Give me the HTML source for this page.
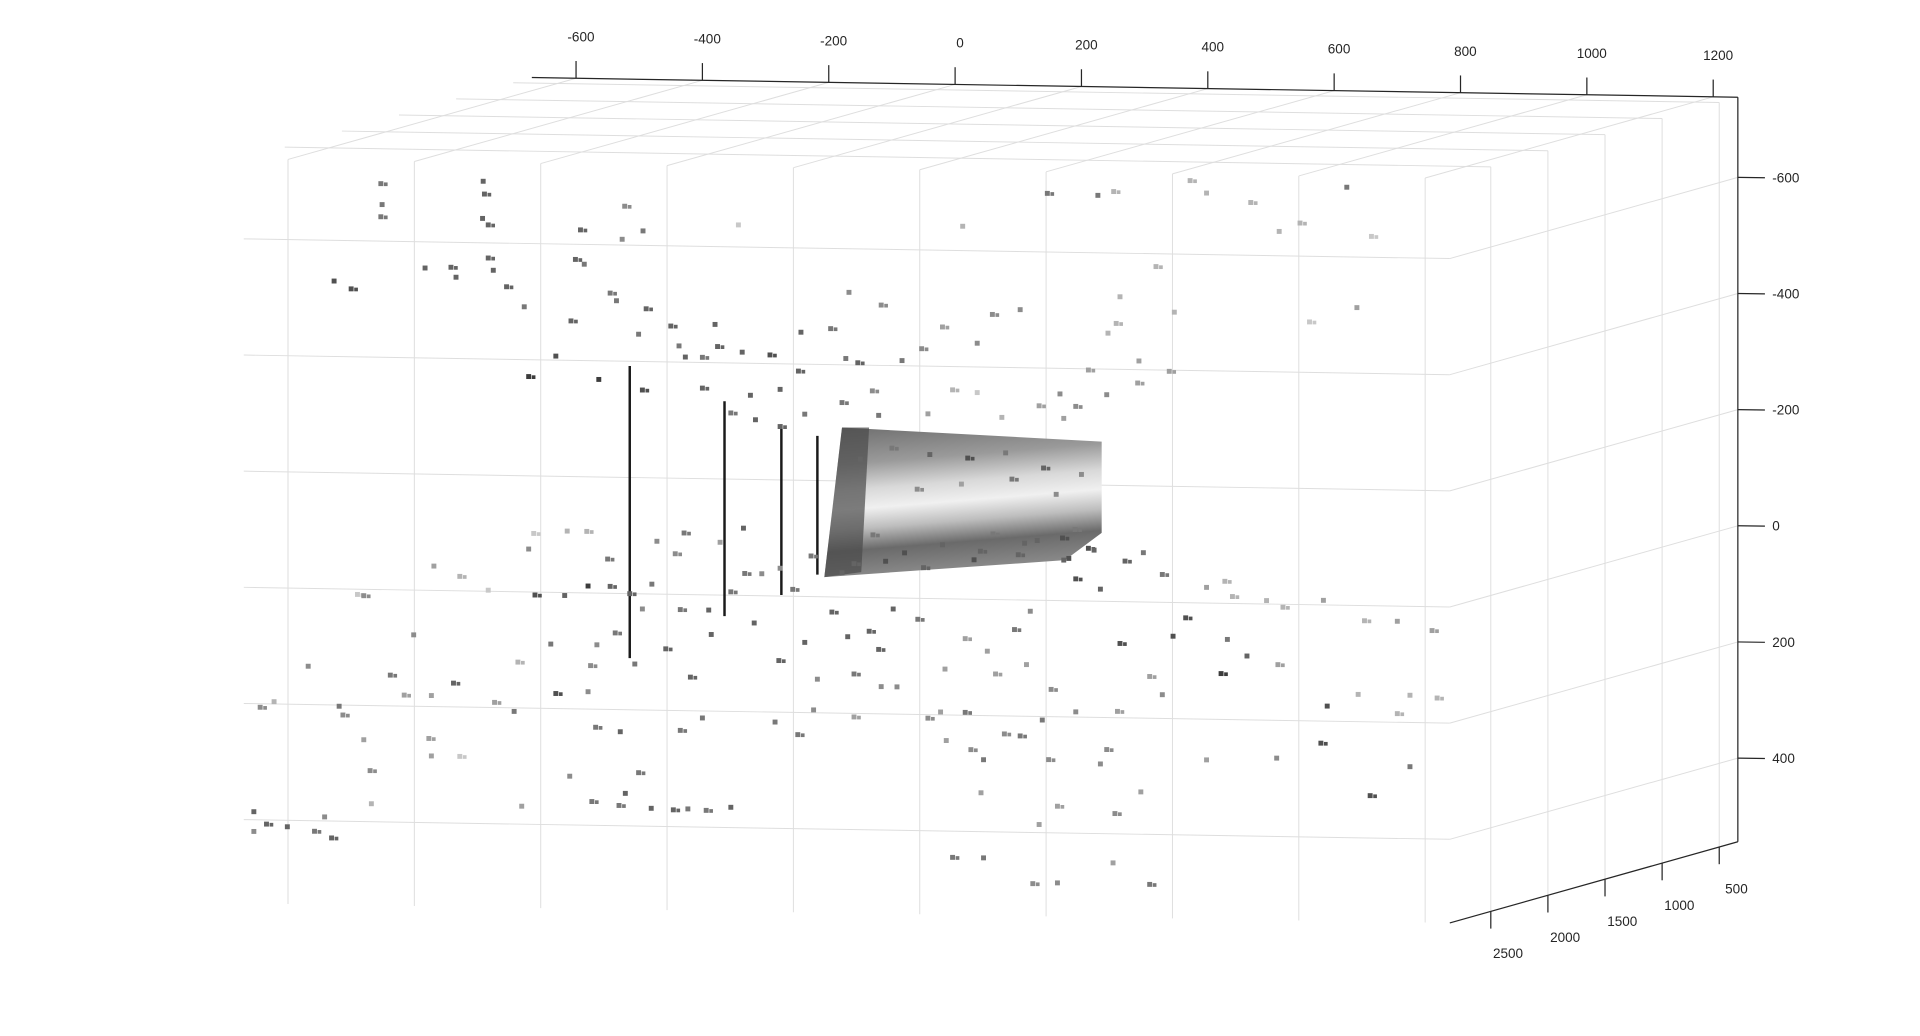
<!DOCTYPE html>
<html><head><meta charset="utf-8"><style>
html,body{margin:0;padding:0;background:#fff;}
svg{display:block;}
text{font-family:"Liberation Sans","DejaVu Sans",sans-serif;font-size:11px;fill:#262626;}
</style></head><body>
<svg id="chart" width="1920" height="1036" viewBox="0 0 1560 842" preserveAspectRatio="none" xmlns="http://www.w3.org/2000/svg">
<defs>
<linearGradient id="roomGrad" x1="0" y1="0" x2="0.15" y2="1">
<stop offset="0" stop-color="#6e6e6e"/><stop offset="0.25" stop-color="#9a9a9a"/>
<stop offset="0.42" stop-color="#d8d8d8"/><stop offset="0.55" stop-color="#f0f0f0"/>
<stop offset="0.68" stop-color="#bdbdbd"/><stop offset="0.82" stop-color="#6a6a6a"/>
<stop offset="1" stop-color="#8a8a8a"/>
</linearGradient>
</defs>
<g id="grid"></g>
<g id="marks"></g>
<g id="axes"></g>
</svg>
<script>
const xTicks = [-600,-400,-200,0,200,400,600,800,1000,1200];
const zTicks = [-600,-400,-200,0,200,400];
const dTicks = [500,1000,1500,2000,2500];
const xRange = [-670,1239];
const zRange = [-738,544];
const dRange = [337,2859];
const pointDepth = 337;
const ptX = [-909,-907,-909,-747,-745,-748,-739,-983,-956,-839,-798,-790,-739,-731,-710,-682,-593,-527,-523,-494,-601,-587,-546,-536,-489,-501,-450,-437,-608,-632,-675,-564,-495,-427,-400,-380,-376,-337,-400,-324,-293,-277,-248,-244,-197,-173,-154,-168,-117,-84,-53,12,-20,35,59,103,146,226,251,261,255,242,318,347,339,291,211,166,372,398,468,513,546,620,659,636,561,-343,
-667,-614,-583,-581,-546,-618,-665,-739,-784,-825,-946,-1024,-894,-857,-794,-829,-872,-975,-969,-936,-926,-924,-833,-829,-784,-698,-729,-686,-632,-581,-569,-530,-501,-522,-532,-481,-446,-423,-394,-355,-575,-610,-435,-400,-419,-386,-458,-507,-435,-480,-443,-372,-333,-318,-279,-285,-249,-224,-160,-117,-43,-14,25,45,103,138,148,133,123,162,240,230,257,294,253,250,308,328,308,398,365,345,421,462,511,431,439,493,519,583,648,700,755,589,579,509,657,638,700,720,763,720,328,398,427,172,191,230,261,119,94,51,16,-16,-59,-98,-136,-170,-195,-238,-257,-306,-355,-390,-515,-495,-538,-567,-577,-640,-692,-23,-4,45,78,41,162,-1110,-1090,-1057,-1014,-998,-987,-1110,-1100,-1078,-936,-675,-550,-472,-429,-335,-121,-92,64,113,152,191,16,-218,-160,-277,-228,-179,269,298,211,-43,-4,35,133,172,191,74,-131,-121,-179,-238,-277,-316,-355,240,289,
-150,-100,-40,20,80,140,200,-60,10,90,160,-130,-20,60,130,190,-80,40,110,170,220,-160,-110,-50,30,100,180];
const ptZ = [-551,-515,-494,-558,-536,-494,-483,-382,-369,-407,-409,-392,-426,-405,-377,-343,-477,-462,-519,-477,-426,-418,-369,-356,-343,-299,-314,-280,-320,-259,-223,-220,-203,-261,-261,-318,-280,-271,-208,-197,-267,-208,-240,-307,-314,-263,-256,-377,-356,-261,-282,-494,-320,-293,-343,-352,-553,-551,-558,-377,-331,-314,-430,-352,-250,-267,-250,-208,-579,-558,-543,-494,-509,-572,-488,-365,-339,-490,
47,42,42,136,136,153,153,146,123,106,157,282,295,225,307,329,329,350,365,407,460,517,403,433,433,354,339,517,322,318,379,386,456,492,513,517,519,517,519,513,507,464,382,360,290,216,242,269,174,131,78,57,110,195,259,365,386,343,354,301,354,392,407,424,382,354,422,534,636,634,403,428,337,475,513,598,634,307,276,418,174,206,269,238,252,210,136,142,153,140,174,174,189,322,386,413,475,301,333,424,305,301,100,121,110,78,110,127,220,167,199,237,216,269,184,167,206,216,174,227,136,110,142,174,148,174,216,237,273,237,269,343,593,593,379,481,502,534,555,559,566,541,577,568,354,344,159,74,89,57,42,32,237,301,276,259,301,339,343,290,280,100,78,106,78,63,57,-170,-212,-208,-187,-166,-187,-166,-208,-166,-187,-166,-144,-155,-166,-208,-229,
-90,-110,-100,-95,-105,-80,-70,-40,-50,-60,-35,40,55,35,45,25,70,65,50,40,60,90,85,95,80,70,75];
const ptShade = [.4,.4,.4,.3,.3,.3,.3,.2,.2,.3,.3,.3,.3,.3,.3,.4,.3,.5,.5,.4,.3,.4,.4,.4,.3,.4,.3,.4,.3,.2,.1,.1,.2,.3,.4,.3,.3,.3,.3,.3,.2,.3,.3,.3,.4,.4,.3,.5,.5,.4,.5,.7,.6,.5,.5,.5,.4,.4,.7,.7,.7,.7,.7,.7,.6,.6,.6,.5,.7,.7,.7,.7,.7,.4,.8,.6,.8,.8,
.8,.7,.7,.1,.3,.3,.2,.8,.7,.6,.8,.5,.4,.5,.3,.6,.6,.4,.5,.6,.5,.7,.6,.6,.8,.4,.6,.6,.2,.5,.4,.3,.4,.3,.4,.3,.3,.4,.4,.3,.4,.5,.4,.4,.3,.3,.3,.4,.4,.4,.5,.6,.4,.3,.3,.4,.4,.5,.6,.5,.5,.6,.5,.4,.4,.4,.5,.6,.5,.5,.5,.5,.6,.6,.5,.6,.4,.5,.6,.6,.2,.2,.1,.3,.6,.4,.7,.7,.7,.6,.7,.6,.6,.2,.2,.5,.2,.7,.7,.4,.7,.7,.4,.6,.7,.3,.2,.3,.2,.5,.4,.6,.6,.6,.4,.3,.3,.3,.3,.3,.4,.5,.4,.3,.3,.5,.4,.5,.5,.4,.7,.6,.4,.4,.5,.6,.6,.3,.3,.3,.4,.5,.3,.5,.5,.7,.5,.5,.4,.5,.4,.3,.3,.5,.6,.6,.5,.5,.4,.5,.4,.5,.4,.3,.3,.4,.2,.6,.7,.8,.6,.6,.5,.7,.5,.4,.4,.4,.3,.3,.4,.5,.6,
.3,.4,.3,.2,.4,.3,.5,.5,.6,.4,.5,.4,.3,.4,.3,.4,.2,.3,.3,.2,.3,.3,.2,.3,.2,.3,.2];
const lineX = [-515,-365,-275,-218];
const lineZTop = [-244,-186,-148,-129];
const lineZBot = [259,184,146,110];
const roomX = [-179,232,232,174,-207];
const roomZ = [-144,-127,30,78,114];

const NS = 'http://www.w3.org/2000/svg';
function P(x,z,d){
  return [1412 + (x-1239)*0.5133 + (d-337)*(-0.0928),
          79 + (z+738)*0.472 + (x-1239)*0.00838 + (d-337)*0.02617];
}
function mk(tag, attrs, parent){
  const e = document.createElementNS(NS, tag);
  for (const k in attrs) e.setAttribute(k, attrs[k]);
  parent.appendChild(e); return e;
}
function line(a,b,stroke,w,parent){
  return mk('line',{x1:a[0],y1:a[1],x2:b[0],y2:b[1],stroke:stroke,'stroke-width':w},parent);
}
const grid = document.getElementById('grid');
const marks = document.getElementById('marks');
const axes = document.getElementById('axes');
const GC = '#dedede';
const [x0,x1] = xRange, [z0,z1] = zRange, [d0,d1] = dRange;
dTicks.forEach(d=>{ const l=line(P(x0,z0,d),P(x1,z0,d),GC,0.8,grid);

 });
xTicks.forEach(x=>{ const l=line(P(x,z0,d0),P(x,z0,d1),GC,0.8,grid);

 });
xTicks.forEach(x=>{ const l=line(P(x,z0,d1),P(x,z1,d1),GC,0.8,grid);

 });
zTicks.forEach(z=>{ const l=line(P(x0,z,d1),P(x1,z,d1),GC,0.8,grid);

 });
dTicks.forEach(d=>{ const l=line(P(x1,z0,d),P(x1,z1,d),GC,0.8,grid);

 });
zTicks.forEach(z=>{ const l=line(P(x1,z,d0),P(x1,z,d1),GC,0.8,grid);

 });

const rp = roomX.map((x,i)=>P(x,roomZ[i],pointDepth).join(',')).join(' ');
const room = mk('polygon',{points:rp,fill:'url(#roomGrad)'},marks);


const rl = [P(roomX[0],roomZ[0],pointDepth),P(roomX[4],roomZ[4],pointDepth)];
const strip = mk('polygon',{points:[rl[0],[rl[0][0]+22,rl[0][1]],[rl[1][0]+30,rl[1][1]-4],rl[1]].map(p=>p.join(',')).join(' '),fill:'#4a4a4a',opacity:0.7},marks);



lineX.forEach((x,i)=>{
  const l = line(P(x,lineZTop[i],pointDepth),P(x,lineZBot[i],pointDepth),'#1a1a1a',2,marks);
  
  
});
ptX.forEach((x,i)=>{
  const p = P(x,ptZ[i],pointDepth);
  const g = Math.round(40 + (ptShade[i]||0.5)*200);
  const c = `rgb(${g},${g},${g})`;
  const r = mk('rect',{x:p[0]-2,y:p[1]-2,width:4,height:4,fill:c},marks);
  
  
  if (i%2===0){ const r2 = mk('rect',{x:p[0]+2.5,y:p[1]-1,width:3,height:3,fill:c},marks);
  
   }
});

const AC = '#262626';
const xa = line(P(x0,z0,d0),P(x1,z0,d0),AC,1,axes);


const za = line(P(x1,z0,d0),P(x1,z1,d0),AC,1,axes);


const da = line(P(x1,z1,d0),P(x1,z1,d1),AC,1,axes);


xTicks.forEach(x=>{
  const p = P(x,z0,d0);
  const t = line(p,[p[0],p[1]-14],AC,1,axes);
  
  
  const tx = mk('text',{x:p[0]+4,y:p[1]-30,'text-anchor':'middle'},axes);
  tx.textContent = x;
  
  
});
zTicks.forEach(z=>{
  const p = P(x1,z,d0);
  const t = line(p,[p[0]+22,p[1]+0.3],AC,1,axes);
  
  
  const tx = mk('text',{x:p[0]+28,y:p[1]+4},axes);
  tx.textContent = z;
  
  
});
dTicks.forEach(d=>{
  const p = P(x1,z1,d);
  const t = line(p,[p[0],p[1]+14],AC,1,axes);
  
  
  const tx = mk('text',{x:p[0]+14,y:p[1]+38,'text-anchor':'middle'},axes);
  tx.textContent = d;
  
  
});
</script>
</body></html>
